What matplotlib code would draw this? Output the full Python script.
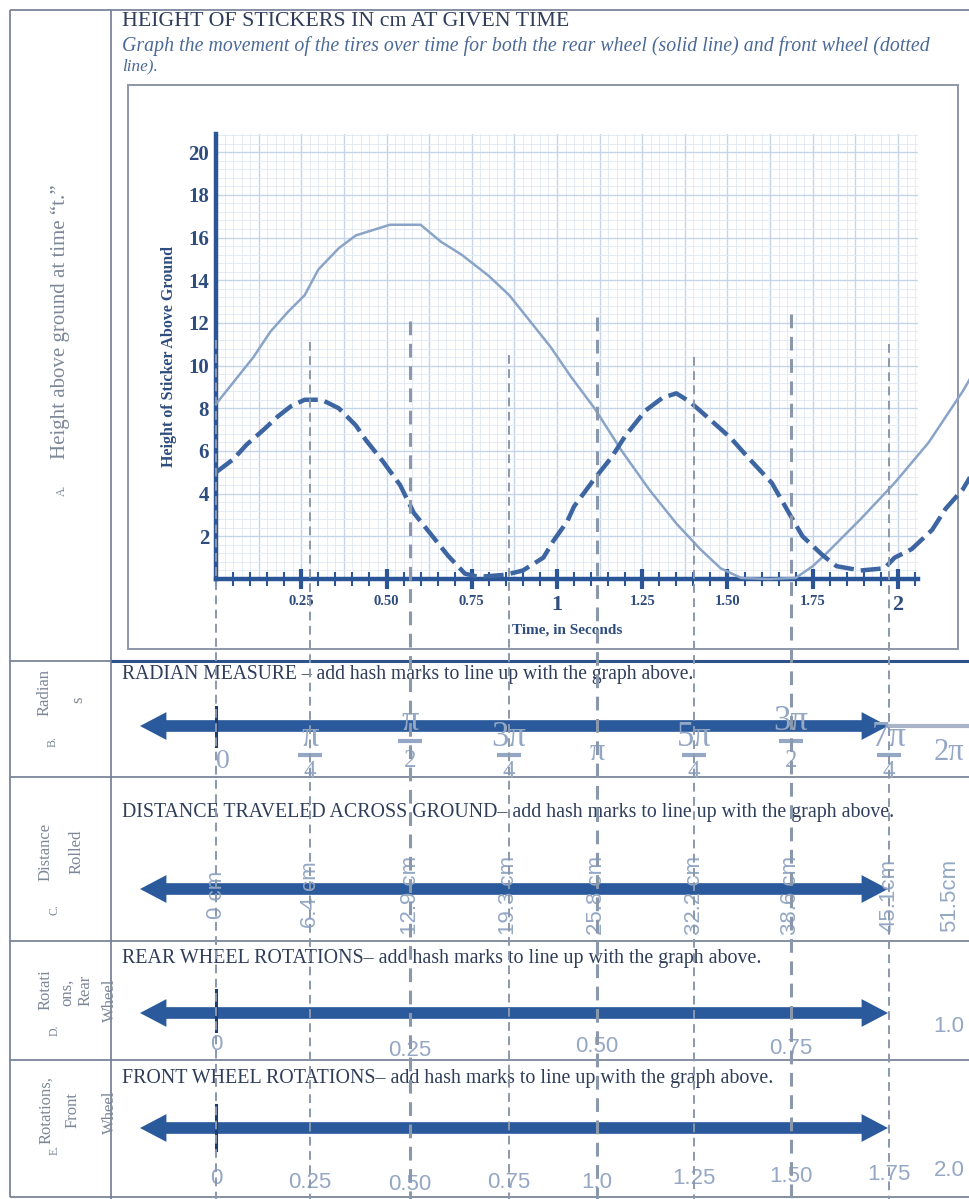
import numpy as np
import matplotlib
matplotlib.use('Agg')
import matplotlib.pyplot as plt
from matplotlib import font_manager as fm
from matplotlib.transforms import blended_transform_factory
from matplotlib.patches import Rectangle
from matplotlib.ticker import MultipleLocator

# ---------------- data ----------------
rear_t = [0.0, 0.06, 0.11, 0.16, 0.21, 0.26, 0.30, 0.36, 0.41, 0.47, 0.51, 0.60, 0.66, 0.72,
          0.80, 0.86, 0.92, 0.98, 1.04, 1.11, 1.19, 1.27, 1.35, 1.42, 1.48, 1.54, 1.62, 1.70,
          1.75, 1.79, 1.89, 1.99, 2.09, 2.19, 2.23]
rear_h = [8.2, 9.4, 10.4, 11.6, 12.5, 13.3, 14.5, 15.5, 16.1, 16.4, 16.6, 16.6, 15.8, 15.2,
          14.2, 13.3, 12.1, 10.9, 9.5, 8.0, 6.0, 4.2, 2.6, 1.4, 0.5, 0.05, 0.0, 0.05,
          0.6, 1.2, 2.8, 4.5, 6.4, 8.8, 9.9]
front_t = [0.0, 0.05, 0.09, 0.14, 0.18, 0.22, 0.26, 0.31, 0.36, 0.41, 0.44, 0.49, 0.54, 0.58,
           0.63, 0.68, 0.73, 0.77, 0.85, 0.90, 0.96, 0.99, 1.03, 1.05, 1.11, 1.16, 1.20, 1.26,
           1.31, 1.35, 1.39, 1.44, 1.51, 1.56, 1.63, 1.68, 1.72, 1.78, 1.82, 1.89, 1.96, 1.99,
           2.04, 2.10, 2.14, 2.19, 2.22]
front_h = [5.0, 5.6, 6.3, 7.0, 7.6, 8.1, 8.4, 8.4, 8.0, 7.2, 6.5, 5.5, 4.4, 3.1,
           2.1, 1.1, 0.25, 0.1, 0.2, 0.4, 1.0, 1.8, 2.7, 3.4, 4.7, 5.7, 6.7, 7.9,
           8.5, 8.7, 8.3, 7.6, 6.6, 5.7, 4.5, 3.1, 2.0, 1.1, 0.6, 0.4, 0.5, 1.0,
           1.4, 2.3, 3.3, 4.2, 5.0]

x_tick_values = [0.25, 0.5, 0.75, 1, 1.25, 1.5, 1.75, 2]
x_tick_labels = ['0.25', '0.50', '0.75', '1', '1.25', '1.50', '1.75', '2']
y_tick_values = [2, 4, 6, 8, 10, 12, 14, 16, 18, 20]

hash_times = [0, 0.276, 0.569, 0.859, 1.117, 1.402, 1.686, 1.974]
hash_tops = [11.2, 11.1, 12.1, 10.5, 12.3, 10.4, 12.4, 11.0]
extra_time = 2.15   # the ninth mark, at the right edge

radian_num = ['0', 'π', 'π', '3π', 'π', '5π', '3π', '7π', '2π']
radian_den = ['', '4', '2', '4', '', '4', '2', '4', '']
distance_labels = ['0 cm', '6.4 cm', '12.9 cm', '19.3 cm', '25.8 cm', '32.2 cm',
                   '38.6 cm', '45.1cm', '51.5cm']
rear_rot_labels = ['0', '0.25', '0.50', '0.75', '1.0']
rear_rot_marks = [0, 2, 4, 6, 8]
front_rot_labels = ['0', '0.25', '0.50', '0.75', '1.0', '1.25', '1.50', '1.75', '2.0']

# ---------------- style ----------------
SERIF = ['Liberation Serif', 'DejaVu Serif']
names = {f.name for f in fm.fontManager.ttflist}
NARROW = ['Liberation Sans Narrow'] if 'Liberation Sans Narrow' in names else ['Liberation Sans']
plt.rcParams['font.family'] = SERIF

AXIS = '#2a5596'
TICKTXT = '#2e4d7e'
REAR = '#8aa4c8'
FRONT = '#3d65a2'
HASH = '#8b98ac'
LIGHT = '#94a7c4'
BORDER = '#6f7c91'
GRAY_TXT = '#7d8798'
HEAD = '#2f3d5a'

W, H = 970, 1199
fig = plt.figure(figsize=(W / 100, H / 100), dpi=100)

bg = fig.add_axes([0, 0, 1, 1])
bg.set_xlim(0, W)
bg.set_ylim(H, 0)
bg.axis('off')
bg.set_zorder(1)

# main graph axes (t=0 at px 216, 341 px per second; y=0 at px 579, 21.34 px per cm)
x0px, y0px, pxs, pxc = 216, 579, 341, 21.34
xmax, ymax = 2.06, 20.87
ax = fig.add_axes([x0px / W, 1 - y0px / H, xmax * pxs / W, ymax * pxc / H])
ax.set_zorder(2)
ax.set_xlim(0, xmax)
ax.set_ylim(0, ymax)

# grid
for v in np.arange(0, xmax, 0.025):
    major = abs(v / 0.125 - round(v / 0.125)) < 1e-6
    ax.axvline(v, color='#c6d4e7' if major else '#e1e8f2', lw=1.0 if major else 0.6, zorder=0)
for v in np.arange(0, ymax, 0.4):
    major = abs(v / 2 - round(v / 2)) < 1e-6
    ax.axhline(v, color='#c6d4e7' if major else '#e1e8f2', lw=1.0 if major else 0.6, zorder=0)

# spines / axes lines
for s in ['top', 'right']:
    ax.spines[s].set_visible(False)
for s in ['left', 'bottom']:
    ax.spines[s].set_color(AXIS)
    ax.spines[s].set_linewidth(3.2)
    ax.spines[s].set_zorder(3)

ax.set_xticks(x_tick_values)
ax.set_xticklabels(x_tick_labels)
ax.xaxis.set_minor_locator(MultipleLocator(0.05))
ax.tick_params(axis='x', which='major', direction='inout', length=15, width=3, color=AXIS, pad=4)
ax.tick_params(axis='x', which='minor', direction='inout', length=10, width=1.5, color=AXIS)
for lab in ax.get_xticklabels():
    lab.set_fontweight('bold')
    lab.set_color(TICKTXT)
    lab.set_fontsize(16 if lab.get_text() in ('1', '2') else 10.5)

ax.set_yticks(y_tick_values)
ax.set_yticklabels([str(v) for v in y_tick_values])
ax.tick_params(axis='y', length=0, pad=5)
for lab in ax.get_yticklabels():
    lab.set_fontweight('bold')
    lab.set_color(TICKTXT)
    lab.set_fontsize(15)

ax.set_xlabel('Time, in Seconds', fontsize=11, fontweight='bold', color=TICKTXT, labelpad=6)
ax.set_ylabel('Height of Sticker Above Ground', fontsize=11.5, fontweight='bold',
              color=TICKTXT, labelpad=8)

# curves
ax.plot(rear_t, rear_h, color=REAR, lw=1.8, clip_on=False, zorder=4)
ax.plot(front_t, front_h, color=FRONT, lw=3.2, linestyle=(0, (4.5, 1.6)), clip_on=False, zorder=4)

# vertical hash lines running down through all the number lines
for i, (t, top) in enumerate(zip(hash_times, hash_tops)):
    lw = 2.2 if i in (2, 4, 6) else 1.4
    ax.plot([t, t], [top, -32], color=HASH, lw=lw, linestyle=(0, (4.5, 2.8)),
            clip_on=False, zorder=5)

# ---------------- table / worksheet frame ----------------
def hline(y, xa, xb, color=BORDER, lw=1.2):
    bg.plot([xa, xb], [y, y], color=color, lw=lw, solid_capstyle='butt')

def vline(x, ya, yb, color=BORDER, lw=1.2):
    bg.plot([x, x], [ya, yb], color=color, lw=lw, solid_capstyle='butt')

hline(10, 10, W)
vline(10, 10, 1197)
vline(111, 10, H)
hline(661, 10, 111)
hline(661, 111, W, color='#2d5189', lw=2.2)
for y in (777, 941, 1060, 1197):
    hline(y, 10, W)

bg.add_patch(Rectangle((128, 85), 830, 564, fill=False, ec='#8c97a8', lw=1.4))

renderer = fig.canvas.get_renderer()

def fit_text(x, y, s, width, **kw):
    t = bg.text(x, y, s, **kw)
    bb = t.get_window_extent(renderer)
    t.set_fontsize(t.get_fontsize() * width / bb.width)
    return t

fit_text(122, 21, 'HEIGHT OF STICKERS IN cm AT GIVEN TIME', 445, va='center', ha='left',
         color=HEAD, fontsize=12)
fit_text(122, 46, 'Graph the movement of the tires over time for both the rear wheel (solid line) '
         'and front wheel (dotted', 804, va='center', ha='left', color='#4b6a98',
         fontsize=12, style='italic')
bg.text(122, 66, 'line).', va='center', ha='left', color='#4b6a98', fontsize=12.3, style='italic')

fit_text(122, 675, 'RADIAN MEASURE – add hash marks to line up with the graph above.', 570,
         va='center', ha='left', color=HEAD, fontsize=11)
fit_text(122, 813, 'DISTANCE TRAVELED ACROSS GROUND– add hash marks to line up with the graph above.',
         771, va='center', ha='left', color=HEAD, fontsize=11)
fit_text(122, 958, 'REAR WHEEL ROTATIONS– add hash marks to line up with the graph above.', 640,
         va='center', ha='left', color=HEAD, fontsize=11)
fit_text(122, 1078, 'FRONT WHEEL ROTATIONS– add hash marks to line up with the graph above.', 650,
         va='center', ha='left', color=HEAD, fontsize=11)

# left column labels
lab_kw = dict(rotation=90, ha='center', va='center', color=GRAY_TXT)
bg.text(62, 490, 'A.', fontsize=8.5, **lab_kw)
bg.text(60, 322, 'Height above ground at time “t.”', fontsize=15, **lab_kw)
bg.text(53, 742, 'B.', fontsize=8.5, **lab_kw)
bg.text(45, 693, 'Radian', fontsize=12, **lab_kw)
bg.text(78, 700, 's', fontsize=12, **lab_kw)
bg.text(55, 910, 'C.', fontsize=8.5, **lab_kw)
bg.text(46, 852, 'Distance', fontsize=12, **lab_kw)
bg.text(77, 852, 'Rolled', fontsize=12, **lab_kw)
bg.text(55, 1030, 'D.', fontsize=8.5, **lab_kw)
bg.text(46, 990, 'Rotati', fontsize=12, **lab_kw)
bg.text(67, 992, 'ons,', fontsize=12, **lab_kw)
bg.text(86, 990, 'Rear', fontsize=12, **lab_kw)
bg.text(55, 1150, 'E.', fontsize=8.5, **lab_kw)
bg.text(46, 1110, 'Rotations,', fontsize=12, **lab_kw)
bg.text(73, 1110, 'Front', fontsize=12, **lab_kw)
for yc in (1000, 1112):
    tw = bg.text(110, yc, 'Wheel', fontsize=12, **lab_kw)
    tw.set_clip_path(Rectangle((10, 0), 101, H, transform=bg.transData))

# ---------------- number lines ----------------
def number_line(y, xa=140, xb=888):
    mid = (xa + xb) / 2
    for end in (xa, xb):
        bg.annotate('', xy=(end, y), xytext=(mid, y),
                    arrowprops=dict(arrowstyle='simple,head_length=0.95,head_width=1.0,tail_width=0.42',
                                    mutation_scale=20, lw=0, color='#2a5a9c',
                                    shrinkA=0, shrinkB=0), zorder=2)

yB, yC, yD, yE = 726, 889, 1013, 1128
bg.plot([878, W], [yB, yB], color='#a9b5c6', lw=3, zorder=1.5)
for y in (yB, yC, yD, yE):
    number_line(y)

tx = blended_transform_factory(ax.transData, bg.transData)
t0 = hash_times[0]
for ya, yb in ((707, 746), (990, 1031), (1105, 1150)):
    bg.plot([t0, t0], [ya, yb], color='#1d3d70', lw=2.2, transform=tx, zorder=3)

label_times = hash_times + [extra_time]

# radians
rad_kw = dict(transform=tx, ha='center', va='center', color=LIGHT, zorder=4)
for t, num, den in zip(label_times, radian_num, radian_den):
    if den == '':
        yy = 761 if num == '0' else 752
        bg.text(t + (0.02 if num == '0' else 0), yy, num, fontsize=22 if num != '0' else 20, **rad_kw)
    elif den == '2':
        bg.text(t, 722, num, fontsize=25, **rad_kw)
        bg.plot([t], [741], marker='_', ms=17, mew=3, color=LIGHT, transform=tx, zorder=4)
        bg.text(t, 761, den, fontsize=18, **rad_kw)
    else:
        bg.text(t, 738, num, fontsize=25, **rad_kw)
        bg.plot([t], [755], marker='_', ms=17, mew=3, color=LIGHT, transform=tx, zorder=4)
        bg.text(t, 772, den, fontsize=18, **rad_kw)

# distances
for t, s in zip(label_times, distance_labels):
    bg.text(t, 895, s, rotation=90, ha='center', va='center', fontsize=16,
            family=['Liberation Sans'], color=LIGHT, transform=tx, zorder=4)

# rear wheel rotations
rear_rot_y = [1045, 1050, 1047, 1048, 1027]
for k, s, yy in zip(rear_rot_marks, rear_rot_labels, rear_rot_y):
    bg.text(label_times[k], yy, s, ha='center', va='center', fontsize=16, family=NARROW,
            color=LIGHT, transform=tx, zorder=4)

# front wheel rotations
front_rot_y = [1178, 1182, 1185, 1182, 1183, 1178, 1176, 1175, 1170]
for t, s, yy in zip(label_times, front_rot_labels, front_rot_y):
    bg.text(t, yy, s, ha='center', va='center', fontsize=16, family=NARROW,
            color=LIGHT, transform=tx, zorder=4)

fig.savefig('out.png', dpi=100)
